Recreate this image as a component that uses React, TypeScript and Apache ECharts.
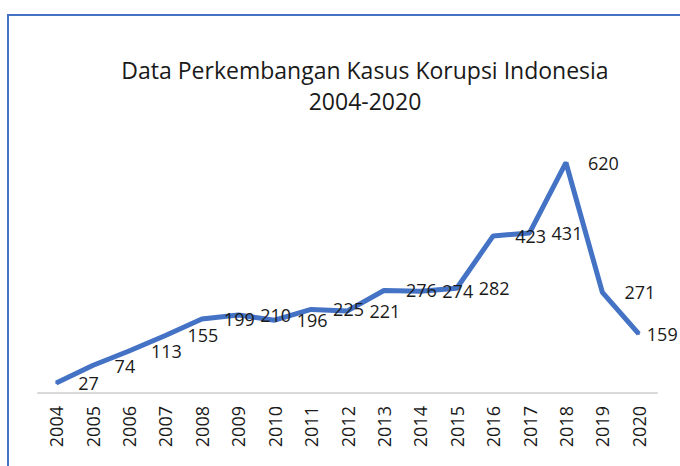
import React, { useEffect, useRef } from "react";
import * as echarts from "echarts";

const years = ["2004","2005","2006","2007","2008","2009","2010","2011","2012","2013","2014","2015","2016","2017","2018","2019","2020"];
const cases = [27, 74, 113, 155, 199, 210, 196, 225, 221, 276, 274, 282, 423, 431, 620, 271, 159];
const titleLines = ["Data Perkembangan Kasus Korupsi Indonesia", "2004-2020"];

const FONT = "'Open Sans', 'Noto Sans', sans-serif";

export default function App() {
  const ref = useRef<HTMLDivElement>(null);
  useEffect(() => {
    if (!ref.current) return;
    const chart = echarts.init(ref.current, null, { renderer: "svg" });
    chart.setOption({
      animation: false,
      backgroundColor: "#ffffff",
      grid: { left: 38, right: 23, top: 133, bottom: 73 },
      graphic: [
        {
          type: "rect",
          shape: { x: 8, y: 15, width: 720, height: 500 },
          style: { fill: "none", stroke: "#4472C4", lineWidth: 2 },
          silent: true,
        },
        {
          type: "text",
          x: 365,
          y: 70,
          style: { text: titleLines[0], font: `23px ${FONT}`, fill: "#1a1a1a", textAlign: "center", textVerticalAlign: "middle" },
        },
        {
          type: "text",
          x: 365,
          y: 101,
          style: { text: titleLines[1], font: `23px ${FONT}`, fill: "#1a1a1a", textAlign: "center", textVerticalAlign: "middle" },
        },
      ],
      xAxis: {
        type: "category",
        data: years,
        boundaryGap: true,
        axisLine: { lineStyle: { color: "#d9d9d9", width: 2 } },
        axisTick: { show: false },
        axisLabel: { rotate: 90, margin: 13, fontSize: 18, color: "#1a1a1a", fontFamily: FONT, interval: 0 },
      },
      yAxis: {
        type: "value",
        min: 0,
        max: 700,
        show: false,
        splitLine: { show: false },
      },
      series: [
        {
          type: "line",
          data: cases.map((v, i) =>
            i === cases.length - 1 ? { value: v, label: { distance: 7 } } : v
          ),
          symbol: "circle",
          symbolSize: 2,
          showSymbol: true,
          lineStyle: { color: "#4472C4", width: 5 },
          itemStyle: { color: "#4472C4" },
          label: {
            show: true,
            position: "right",
            distance: 21,
            fontSize: 18,
            color: "#1a1a1a",
            fontFamily: FONT,
          },
        },
      ],
    });
    return () => chart.dispose();
  }, []);
  return (
    <div
      ref={ref}
      style={{ position: "absolute", left: 0, top: 0, width: 680, height: 466 }}
    />
  );
}
